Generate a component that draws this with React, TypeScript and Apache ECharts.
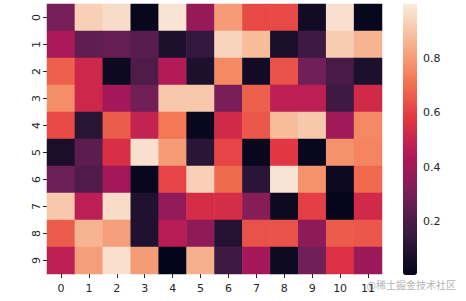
import React, { useEffect, useRef } from "react";
import * as echarts from "echarts";

const xLabels = ["0", "1", "2", "3", "4", "5", "6", "7", "8", "9", "10", "11"];
const yLabels = ["0", "1", "2", "3", "4", "5", "6", "7", "8", "9"];

const row0 = [0.3, 0.93, 0.96, 0.02, 0.98, 0.38, 0.8, 0.62, 0.62, 0.05, 0.97, 0.02];
const row1 = [0.43, 0.25, 0.26, 0.23, 0.08, 0.14, 0.94, 0.88, 0.07, 0.17, 0.92, 0.86];
const row2 = [0.67, 0.52, 0.03, 0.21, 0.45, 0.08, 0.76, 0.05, 0.64, 0.29, 0.19, 0.08];
const row3 = [0.77, 0.52, 0.41, 0.29, 0.91, 0.91, 0.31, 0.67, 0.47, 0.47, 0.17, 0.53];
const row4 = [0.62, 0.11, 0.66, 0.49, 0.72, 0.02, 0.53, 0.65, 0.88, 0.91, 0.4, 0.76];
const row5 = [0.07, 0.24, 0.55, 0.97, 0.8, 0.12, 0.61, 0.02, 0.58, 0.02, 0.78, 0.75];
const row6 = [0.28, 0.21, 0.41, 0.02, 0.61, 0.93, 0.69, 0.12, 0.98, 0.78, 0.03, 0.69];
const row7 = [0.91, 0.47, 0.96, 0.09, 0.37, 0.54, 0.54, 0.34, 0.03, 0.6, 0.01, 0.53];
const row8 = [0.66, 0.86, 0.81, 0.09, 0.46, 0.36, 0.1, 0.64, 0.64, 0.36, 0.66, 0.65];
const row9 = [0.47, 0.81, 0.97, 0.8, 0.005, 0.85, 0.17, 0.41, 0.04, 0.29, 0.56, 0.39];
const rows = [row0, row1, row2, row3, row4, row5, row6, row7, row8, row9];

const colorTicks = [0.2, 0.4, 0.6, 0.8];
const colorMin = 0.005;
const colorMax = 1.0;
const rocket = ["#03051a", "#35193e", "#701f57", "#ad1759", "#e13342", "#f37651", "#f6b48f", "#faebdd"];

const FONT = "DejaVu Sans";
const TXT = "#262626";

export default function App() {
  const ref = useRef<HTMLDivElement>(null);
  useEffect(() => {
    if (!ref.current) return;
    document.body.style.margin = "0";
    const chart = echarts.init(ref.current, null, { renderer: "svg" });
    const data: number[][] = [];
    rows.forEach((r, yi) => r.forEach((v, xi) => data.push([xi, yi, v])));
    chart.setOption({
      animation: false,
      backgroundColor: "#ffffff",
      grid: [
        { left: 47, top: 4, right: 84, bottom: 27 },
        { left: 403, top: 4, width: 14, bottom: 26 },
      ],
      xAxis: [
        {
          type: "category",
          gridIndex: 0,
          data: xLabels,
          axisLine: { show: false },
          axisTick: { show: true, length: 4, alignWithLabel: true, lineStyle: { color: TXT } },
          axisLabel: { color: TXT, fontFamily: FONT, fontSize: 11, margin: 9 },
          splitLine: { show: false },
        },
        {
          type: "value",
          gridIndex: 1,
          show: false,
          min: 0,
          max: 1,
        },
      ],
      yAxis: [
        {
          type: "category",
          gridIndex: 0,
          data: yLabels,
          inverse: true,
          axisLine: { show: false },
          axisTick: { show: true, length: 4, alignWithLabel: true, lineStyle: { color: TXT } },
          axisLabel: { color: TXT, fontFamily: FONT, fontSize: 11, rotate: 90, margin: 5 },
          splitLine: { show: false },
        },
        {
          type: "value",
          gridIndex: 1,
          position: "right",
          min: colorMin,
          max: colorMax,
          axisLine: { show: false },
          splitLine: { show: false },
          axisTick: { show: true, length: 4, lineStyle: { color: TXT }, customValues: colorTicks },
          axisLabel: {
            color: TXT,
            fontFamily: FONT,
            fontSize: 11,
            margin: 6,
            customValues: colorTicks,
            formatter: (v: number) => v.toFixed(1),
          },
        },
      ],
      visualMap: {
        type: "continuous",
        min: colorMin,
        max: colorMax,
        seriesIndex: 0,
        calculable: false,
        show: true,
        left: 403,
        top: 4,
        itemWidth: 14,
        itemHeight: 271,
        padding: 0,
        text: ["", ""],
        inRange: { color: rocket },
      },
      series: [
        {
          type: "heatmap",
          xAxisIndex: 0,
          yAxisIndex: 0,
          data,
          itemStyle: { borderWidth: 0 },
          emphasis: { disabled: true },
        },
        {
          type: "scatter",
          xAxisIndex: 1,
          yAxisIndex: 1,
          data: [],
        },
      ],
      graphic: [
        {
          type: "text",
          right: 10,
          top: 279,
          style: { text: "@稀土掘金技术社区", fill: "#b5b5b5", font: "10px 'Noto Sans CJK SC'" },
        },
      ],
    });
    return () => chart.dispose();
  }, []);
  return <div ref={ref} style={{ width: 466, height: 301 }} />;
}
